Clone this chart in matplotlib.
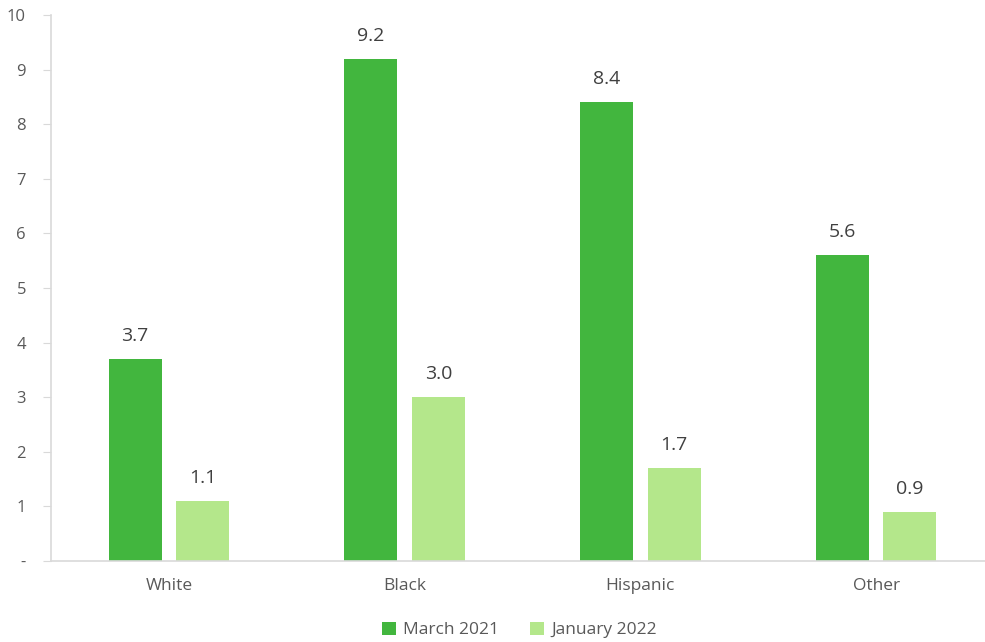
import matplotlib
matplotlib.use("Agg")
import matplotlib.pyplot as plt
import numpy as np

categories = ["White", "Black", "Hispanic", "Other"]
series_names = ["March 2021", "January 2022"]
march_2021 = [3.7, 9.2, 8.4, 5.6]
january_2022 = [1.1, 3.0, 1.7, 0.9]
y_ticks = [0, 1, 2, 3, 4, 5, 6, 7, 8, 9, 10]
y_tick_labels = ["-", "1", "2", "3", "4", "5", "6", "7", "8", "9", "10"]

colors = ["#42B63E", "#B4E78B"]
plt.rcParams['font.family'] = ['Open Sans', 'DejaVu Sans']

fig = plt.figure(figsize=(9.85, 6.42), dpi=100)
ax = fig.add_axes([51/985, 81/642, 943/985, (561-15)/642])

x = np.arange(len(categories))
w = 0.225
off = 0.143
b1 = ax.bar(x - off, march_2021, w, color=colors[0], label=series_names[0])
b2 = ax.bar(x + off, january_2022, w, color=colors[1], label=series_names[1])

for bars, vals in ((b1, march_2021), (b2, january_2022)):
    for rect, v in zip(bars, vals):
        ax.annotate(f"{v:.1f}", (rect.get_x() + rect.get_width()/2, v),
                    xytext=(0, 10), textcoords="offset points",
                    ha="center", va="bottom", fontsize=14, color="#404040")

ax.set_xlim(-0.5, 3.5)
ax.set_ylim(0, 10)
ax.set_yticks(y_ticks)
ax.set_yticklabels(y_tick_labels)
ax.set_xticks(x)
ax.set_xticklabels(categories)
ax.tick_params(axis="y", length=6, color="#D9D9D9", labelsize=12, labelcolor="#595959", pad=12)
ax.tick_params(axis="x", length=0, labelsize=12.5, labelcolor="#595959", pad=12)
for s in ("top", "right"):
    ax.spines[s].set_visible(False)
for s in ("left", "bottom"):
    ax.spines[s].set_color("#D9D9D9")
    ax.spines[s].set_linewidth(1.2)

ax.legend(loc="lower center", bbox_to_anchor=(0.497, -0.17), ncol=2, frameon=False,
          fontsize=12.5, labelcolor="#595959", handlelength=0.8, handleheight=0.8,
          handletextpad=0.4, columnspacing=1.8)

fig.savefig("out.png", dpi=100)
